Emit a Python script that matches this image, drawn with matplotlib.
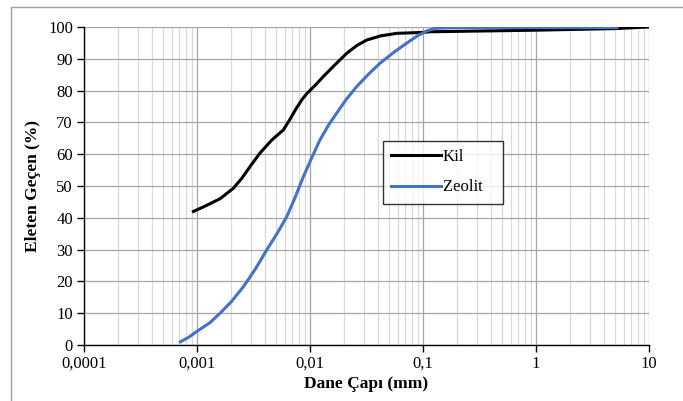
import numpy as np
import matplotlib.pyplot as plt
from matplotlib.ticker import FixedLocator, FixedFormatter, NullFormatter, LogLocator
from matplotlib.patches import Rectangle

# values
kil_x = [0.00093, 0.0012, 0.0016, 0.0021, 0.0025, 0.0030, 0.0036, 0.0046, 0.0058,
         0.0066, 0.0075, 0.0085, 0.0094, 0.0112, 0.0131, 0.0165, 0.0211, 0.0260,
         0.0318, 0.0420, 0.0585, 0.1, 0.115, 1.0, 5.0, 10.0]
kil_y = [42.0, 43.8, 46.0, 49.3, 52.5, 56.5, 60.3, 64.5, 67.6,
         70.8, 74.2, 77.2, 79.1, 81.8, 84.4, 88.0, 91.7, 94.2,
         95.9, 97.2, 98.0, 98.3, 98.5, 99.0, 99.5, 100.0]

zeo_x = [0.000714, 0.00085, 0.00099, 0.0013, 0.0016, 0.0020, 0.00257, 0.0033,
         0.00414, 0.0051, 0.00622, 0.0074, 0.00873, 0.0104, 0.01225, 0.0145,
         0.0172, 0.0210, 0.0258, 0.0330, 0.0416, 0.0550, 0.0716, 0.09, 0.11,
         0.13, 0.2, 1.0, 5.2]
zeo_y = [1.0, 2.5, 4.2, 7.0, 10.0, 13.5, 18.3, 24.0,
         29.9, 35.0, 40.3, 46.5, 52.9, 59.0, 64.5, 69.0,
         72.9, 77.3, 81.2, 85.2, 88.6, 92.0, 94.9, 97.3, 98.9,
         99.6, 99.8, 99.8, 99.8]

x_ticks = [0.0001, 0.001, 0.01, 0.1, 1, 10]
x_labels = ['0,0001', '0,001', '0,01', '0,1', '1', '10']
y_ticks = list(range(0, 101, 10))

plt.rcParams['font.family'] = ['Liberation Serif', 'DejaVu Serif']

fig = plt.figure(figsize=(6.83, 4.01), dpi=100)
# outer frame (only top and left visible in the reference)
fig.patches.append(Rectangle((11 / 683, -0.1), 1.0, 1 - 6.5 / 401 + 0.1,
                             transform=fig.transFigure, fill=False,
                             edgecolor='#a0a0a0', linewidth=1.0))

ax = fig.add_axes([84 / 683, 1 - 345 / 401, (649 - 84) / 683, (345 - 27) / 401])

ax.plot(kil_x, kil_y, color='black', linewidth=2.2, label='Kil', zorder=3)
ax.plot(zeo_x, zeo_y, color='#4472C4', linewidth=2.2, label='Zeolit   ', zorder=3)

ax.set_xscale('log')
ax.set_xlim(0.0001, 10)
ax.set_ylim(0, 100)

ax.xaxis.set_major_locator(FixedLocator(x_ticks))
ax.xaxis.set_major_formatter(FixedFormatter(x_labels))
ax.xaxis.set_minor_locator(LogLocator(base=10, subs=np.arange(2, 10)))
ax.xaxis.set_minor_formatter(NullFormatter())
ax.set_yticks(y_ticks)

ax.grid(which='major', color='#a6a6a6', linewidth=0.9)
ax.grid(which='minor', axis='x', color='#d9d9d9', linewidth=0.9)
ax.set_axisbelow(True)

for s in ['top', 'right']:
    ax.spines[s].set_visible(False)
for s in ['left', 'bottom']:
    ax.spines[s].set_color('black')
    ax.spines[s].set_linewidth(1.0)

ax.tick_params(which='major', direction='out', length=5, width=1.0,
               labelsize=12, colors='black', pad=3)
ax.tick_params(which='minor', length=0)

ax.set_xlabel('Dane Çapı (mm)', fontsize=12.5, fontweight='bold', labelpad=3)
ax.set_ylabel('Eleten Geçen (%)', fontsize=12.5, fontweight='bold', labelpad=5)

leg = ax.legend(loc='upper left', bbox_to_anchor=((383 - 84) / 565, 1 - (141 - 27) / 318),
                fontsize=12, frameon=True, fancybox=False, handlelength=3.0,
                borderaxespad=0, labelspacing=0.85, handletextpad=0.1,
                borderpad=0.5)
leg.get_frame().set_edgecolor('black')
leg.get_frame().set_linewidth(1.0)

fig.savefig('out.png', dpi=100)
